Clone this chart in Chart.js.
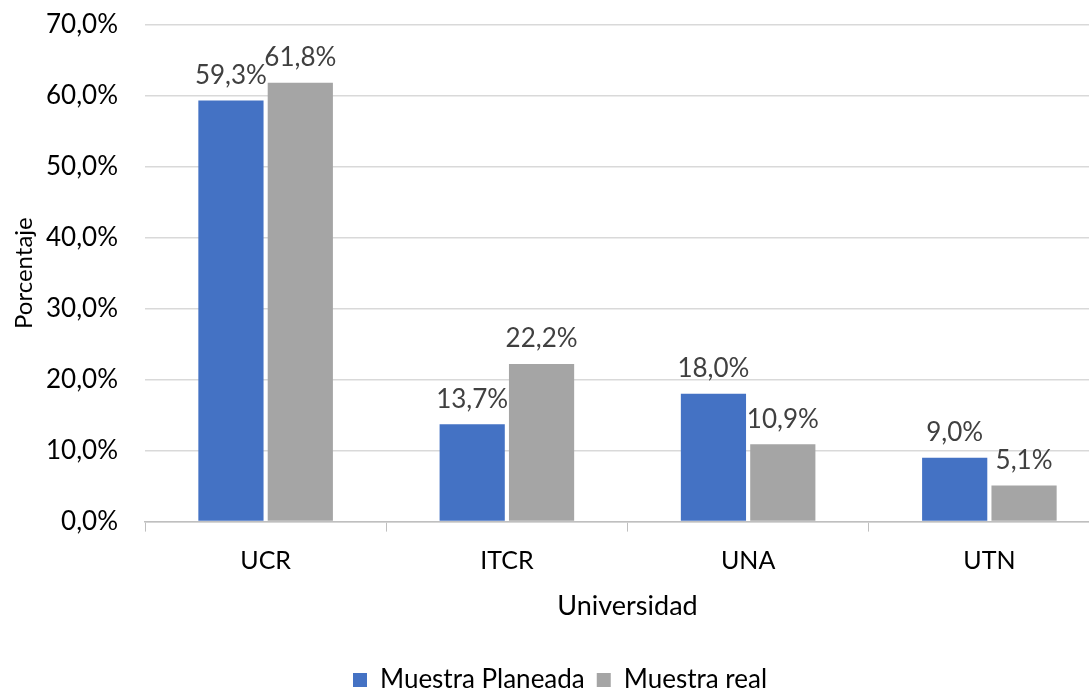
<!DOCTYPE html>
<html>
<head>
<meta charset="utf-8">
<script src="https://cdn.jsdelivr.net/npm/chart.js@4"></script>
<style>
  html, body { margin: 0; padding: 0; background: #fff; overflow: hidden; }
  #wrap { width: 1110px; height: 690px; }
</style>
</head>
<body>
<div id="wrap"><canvas id="barChart" width="1110" height="690"></canvas></div>
<script>
const universidades = ['UCR', 'ITCR', 'UNA', 'UTN'];
const muestraPlaneada = [59.3, 13.7, 18.0, 9.0];
const muestraReal = [61.8, 22.2, 10.9, 5.1];
const yTicks = [0, 10, 20, 30, 40, 50, 60, 70];

const fontFam = 'Lato, "Open Sans", sans-serif';
const fmt = v => v.toFixed(1).replace('.', ',') + '%';

// etiquetas de valor encima de cada barra
const valueLabels = {
  id: 'valueLabels',
  afterDatasetsDraw(chart) {
    const ctx = chart.ctx;
    ctx.save();
    ctx.font = '26px ' + fontFam;
    ctx.fillStyle = '#404040';
    ctx.textAlign = 'center';
    ctx.textBaseline = 'bottom';
    chart.data.datasets.forEach((ds, i) => {
      chart.getDatasetMeta(i).data.forEach((bar, j) => {
        ctx.fillText(fmt(ds.data[j]), bar.x, bar.y - 12);
      });
    });
    ctx.restore();
  }
};

new Chart(document.getElementById('barChart').getContext('2d'), {
  type: 'bar',
  data: {
    labels: universidades,
    datasets: [{
      label: 'Muestra Planeada',
      data: muestraPlaneada,
      backgroundColor: '#4472c4',
      barPercentage: 0.94,
      categoryPercentage: 0.575
    }, {
      label: 'Muestra real',
      data: muestraReal,
      backgroundColor: '#a5a5a5',
      barPercentage: 0.94,
      categoryPercentage: 0.575
    }]
  },
  options: {
    responsive: false,
    animation: false,
    layout: {padding: {top: 0, right: 0, left: 10, bottom: -13}},
    scales: {
      x: {
        grid: {drawOnChartArea: false, color: '#bfbfbf', tickLength: 10, offset: true},
        border: {color: '#bfbfbf', width: 1.5},
        ticks: {color: '#000', font: {size: 25, family: fontFam}, padding: 14},
        title: {display: true, text: 'Universidad', color: '#000', font: {size: 27, family: fontFam}, padding: {top: 0, bottom: 33}}
      },
      y: {
        min: 0,
        max: 70,
        afterBuildTicks: axis => { axis.ticks = yTicks.map(v => ({value: v})); },
        afterFit: axis => { axis.width = 135; },
        grid: {color: '#d9d9d9', lineWidth: 1.5, drawTicks: true, tickLength: 18, tickColor: 'rgba(0,0,0,0)'},
        border: {display: false},
        ticks: {color: '#000', font: {size: 26, family: fontFam}, padding: 9, callback: v => fmt(v)},
        title: {display: true, text: 'Porcentaje', color: '#000', font: {size: 24, family: fontFam}, padding: {top: 0, bottom: 0}}
      }
    },
    plugins: {
      legend: {
        position: 'bottom',
        labels: {boxWidth: 14, boxHeight: 14, color: '#000', font: {size: 26, family: fontFam}, padding: 12}
      },
      tooltip: {enabled: false}
    }
  },
  plugins: [valueLabels]
});
</script>
</body>
</html>
